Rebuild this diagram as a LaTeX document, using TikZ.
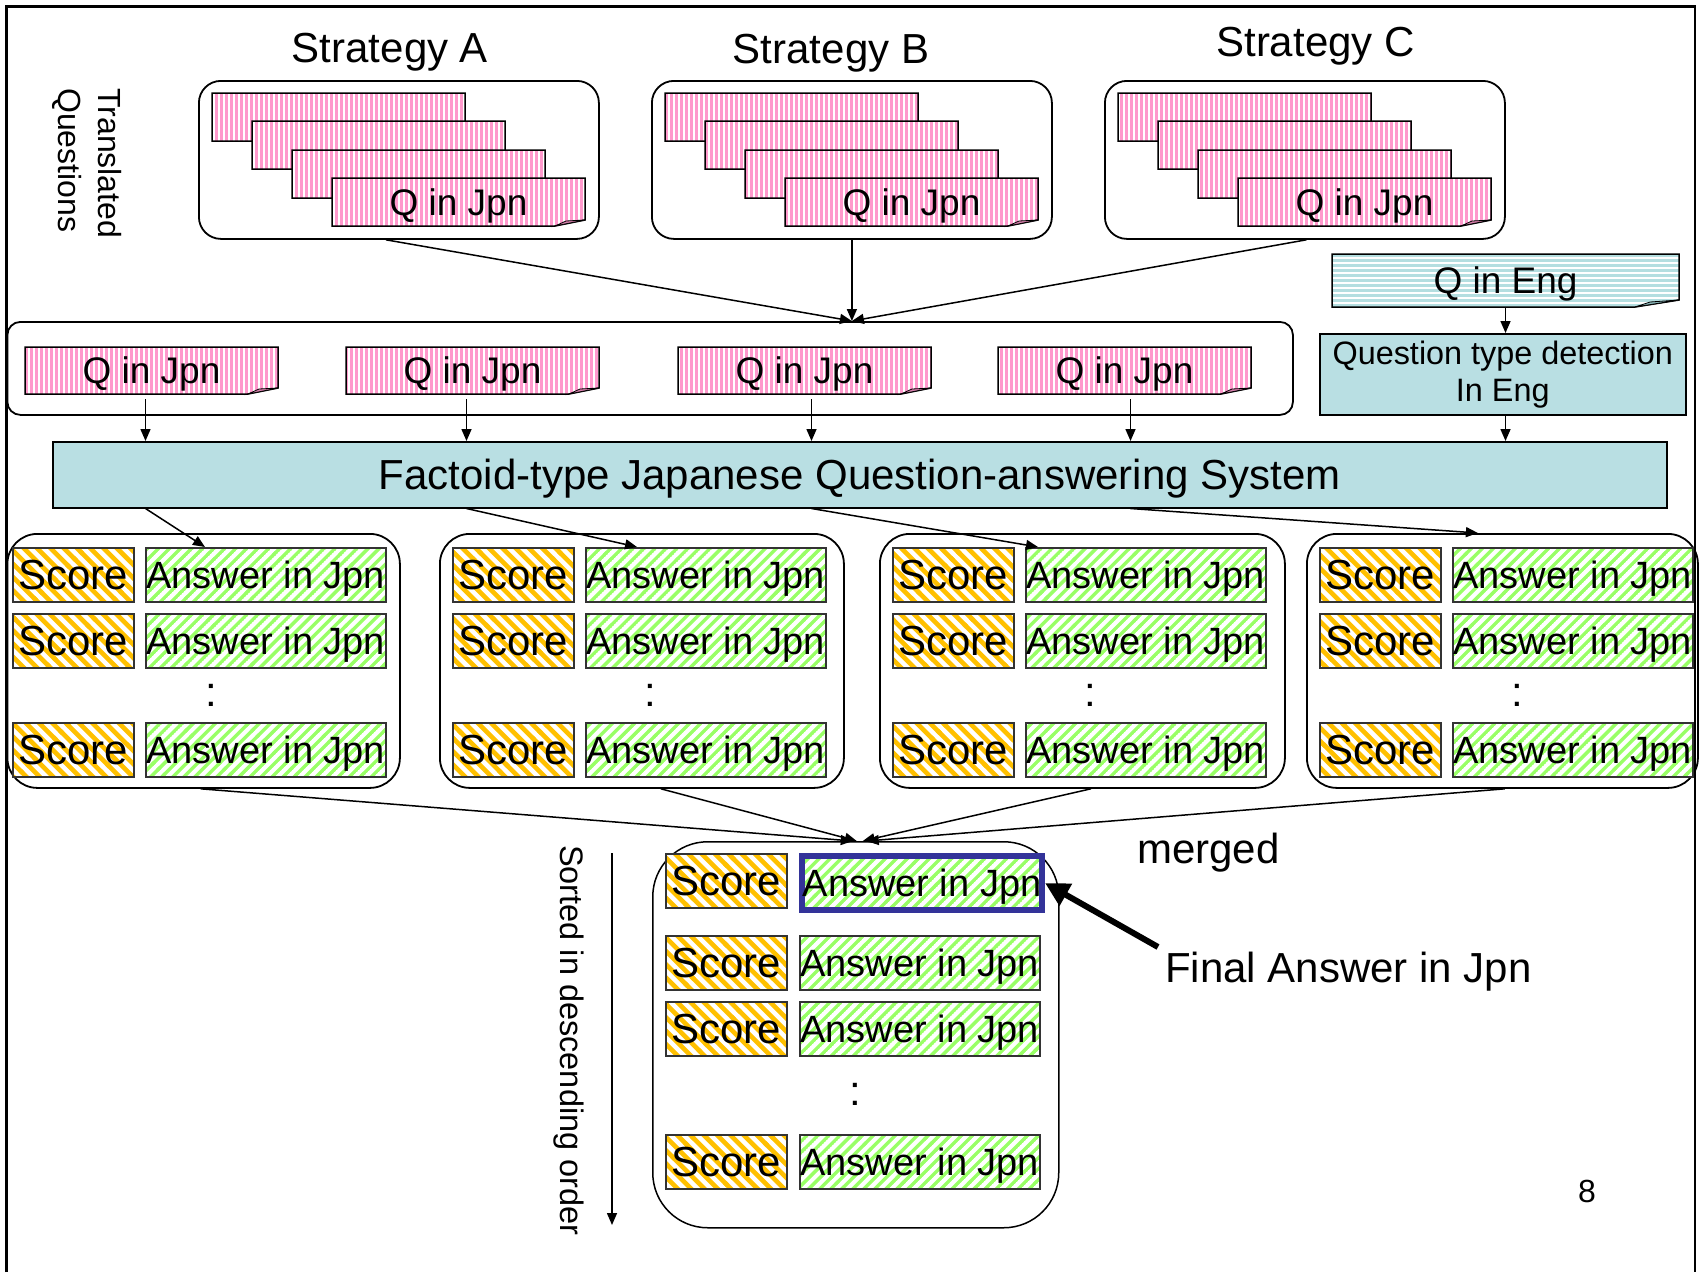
\documentclass[tikz,border=0pt]{standalone}
\usepackage{fontspec}
\setmainfont{Liberation Sans}
\usetikzlibrary{patterns.meta,arrows.meta,calc}

\definecolor{pinkS}{HTML}{FF99CC}
\definecolor{pinkF}{HTML}{D67FAB}
\definecolor{tealS}{HTML}{B4DEE0}
\definecolor{tealF}{HTML}{8AB5B8}
\definecolor{sysfill}{HTML}{B9DFE3}
\definecolor{scoreS}{HTML}{FFC000}
\definecolor{ansS}{HTML}{99FF66}
\definecolor{finalblue}{HTML}{333399}

\tikzdeclarepattern{
  name=vstripe,
  bottom left={(0pt,-2pt)}, top right={(5pt,62pt)},
  tile size={(5pt,60pt)},
  code={\pgfpathrectangle{\pgfpoint{0pt}{-2pt}}{\pgfpoint{3pt}{64pt}}\pgfusepath{fill}}
}
\tikzdeclarepattern{
  name=hstripe,
  bottom left={(-2pt,0pt)}, top right={(62pt,5pt)},
  tile size={(60pt,5pt)},
  code={\pgfpathrectangle{\pgfpoint{-2pt}{0pt}}{\pgfpoint{64pt}{2.6pt}}\pgfusepath{fill}}
}
\tikzdeclarepattern{
  name=scorestripe,
  bottom left={(-2pt,0pt)}, top right={(58.4pt,9.4pt)},
  tile size={(56.4pt,9.4pt)},
  tile transformation={rotate=-45},
  code={\pgfpathrectangle{\pgfpoint{-2pt}{0pt}}{\pgfpoint{60.4pt}{4.6pt}}\pgfusepath{fill}}
}
\tikzdeclarepattern{
  name=ansstripe,
  bottom left={(-2pt,0pt)}, top right={(48.8pt,7.8pt)},
  tile size={(46.8pt,7.8pt)},
  tile transformation={rotate=45},
  code={\pgfpathrectangle{\pgfpoint{-2pt}{0pt}}{\pgfpoint{50.8pt}{3.4pt}}\pgfusepath{fill}}
}

\tikzset{
  jpnsheet/.style={preaction={fill=white}, pattern=vstripe, pattern color=pinkS, draw=black, line width=1.5},
  jpnfold/.style={fill=pinkF, draw=black, line width=0.8},
  sheettext/.style={inner sep=0pt, font=\fontsize{37}{42}\selectfont, text height=26.5pt, text depth=0pt},
  sbox/.style={draw=black, line width=1.8, rounded corners=22, minimum width=400, minimum height=158, anchor=north west, inner sep=0pt},
  title/.style={inner sep=0pt, font=\fontsize{42}{48}\selectfont},
  sysbox/.style={draw=black, line width=1.5, fill=sysfill, anchor=north west, inner sep=0pt},
  grp/.style={draw=black, line width=1.8, rounded corners=30, minimum height=254, anchor=north west, inner sep=0pt},
  scorebox/.style={draw=black!80, line width=1.5, preaction={fill=white}, pattern=scorestripe, pattern color=scoreS,
    minimum width=121, minimum height=54, inner sep=0pt, anchor=north west,
    font=\fontsize{42}{48}\selectfont, text height=30pt, text depth=0pt},
  ansbox/.style={draw=black!80, line width=1.5, preaction={fill=white}, pattern=ansstripe, pattern color=ansS,
    minimum width=240, minimum height=54, inner sep=0pt, anchor=north west,
    font=\fontsize{38}{44}\selectfont, text height=27.2pt, text depth=0pt},
  dots/.style={inner sep=0pt, anchor=base, font=\fontsize{42}{48}\selectfont},
  arr/.style={line width=1.5, -{Triangle[length=12pt,width=10pt]}},
  bigarr/.style={line width=6, -{Triangle[length=24pt,width=24pt]}},
  label/.style={inner sep=0pt}
}

\newcommand\qsheet[6]{%
  \path[jpnsheet] (#2,#3) -- (#4,#3) -- ({#4},{(#5)-6}) -- ({(#4)-30},{#5}) -- (#2,#5) -- cycle;
  \filldraw[jpnfold] ({(#4)-30},{#5}) -- ({(#4)-19},{(#5)-5}) -- ({#4},{(#5)-6}) -- cycle;
  \node[sheettext, minimum width={(#4)-(#2)}, minimum height={(#5)-(#3)}] (#1) at ({((#2)+(#4))/2},{((#3)+(#5))/2}) {#6};
}

\begin{document}
\begin{tikzpicture}[x=1pt,y=-1pt]
\useasboundingbox (0,0) rectangle (1699,1272);
\fill[white] (0,0) rectangle (1699,1272);

% outer frame
\draw[line width=2.5] (6.5,1272) -- (6.5,6.5) -- (1695,6.5) -- (1695,1272);

% rotated side label
\node[label, rotate=-90, anchor=base west, font=\fontsize{32}{38}\selectfont] (tq1) at (98,88) {Translated};
\node[label, rotate=-90, anchor=base west, font=\fontsize{32}{38}\selectfont] (tq2) at (58,88) {Questions};

% strategies
\foreach \o/\n/\tx/\ty in {0/A/390/62, 453/B/831/63, 906/C/1315.5/56.5} {
  \node[sbox] (S\n) at ({198+\o},80) {};
  \qsheet{s\n1}{212+\o}{93}{465+\o}{141}{}
  \qsheet{s\n2}{252+\o}{121}{505+\o}{169}{}
  \qsheet{s\n3}{292+\o}{150}{545+\o}{198}{}
  \qsheet{s\n4}{332+\o}{178}{585+\o}{226}{Q in Jpn}
  \node[title, anchor=base] (T\n) at (\tx,\ty) {Strategy \n};
}

% second row container
\node[draw=black, line width=1.8, rounded corners=13, minimum width=1285.5, minimum height=93, anchor=north west, inner sep=0pt] (R2) at (6.5,321) {};
\qsheet{q1}{25}{347}{278}{394}{Q in Jpn}
\qsheet{q2}{346}{347}{599}{394}{Q in Jpn}
\qsheet{q3}{678}{347}{931}{394}{Q in Jpn}
\qsheet{q4}{998}{347}{1251}{394}{Q in Jpn}

% strategies -> row 2
\coordinate (mq) at (SB.south |- R2.north);
\draw[arr] ($(SA.south)+(-13,0)$) -- (mq);
\draw[arr] (SB.south) -- (mq);
\draw[arr] ($(SC.south)+(1.5,0)$) -- (mq);

% English question
\path[preaction={fill=white}, pattern=hstripe, pattern color=tealS, draw=black, line width=1.5]
  (1332,254) -- (1679,254) -- (1679,300) -- (1635,307) -- (1332,307) -- cycle;
\filldraw[fill=tealF, draw=black, line width=0.8] (1635,307) -- (1650,302) -- (1679,300) -- cycle;
\node[sheettext, minimum width=347, minimum height=53] (QE) at (1505.5,280.5) {Q in Eng};

\node[sysbox, minimum width=366, minimum height=81, align=center, font=\fontsize{32.4}{37}\selectfont] (QT) at (1319,333) {Question type detection\\In Eng};

% QA system
\node[sysbox, minimum width=1614, minimum height=66, font=\fontsize{42}{48}\selectfont, text height=30pt, text depth=0pt] (F) at (52,441) {Factoid-type Japanese Question-answering System};

\draw[arr] (QE.south) -- (QE.south |- QT.north);
\draw[arr] (QE.south |- QT.south) -- (QE.south |- F.north);

% row-2 sheets -> system
\coordinate (c1) at ($(q1.south)+(-6,5)$);
\coordinate (c2) at ($(q2.south)+(-6,5)$);
\coordinate (c3) at ($(q3.south)+(7,5)$);
\coordinate (c4) at ($(q4.south)+(6,5)$);
\foreach \c in {c1,c2,c3,c4} { \draw[arr] (\c) -- (\c |- F.north); }

% answer groups
\node[grp, minimum width=392.5] (G1) at (6.5,533) {};
\node[grp, minimum width=404] (G2) at (439,533) {};
\node[grp, minimum width=405] (G3) at (879,533) {};
\node[grp, minimum width=391] (G4) at (1306,533) {};

\foreach \g/\sl/\al/\dx in {1/12/145/211, 2/452/585/650, 3/892/1025/1090, 4/1319/1452/1517} {
  \foreach \r/\ry in {1/547, 2/613, 3/722} {
    \node[scorebox] (s\g\r) at (\sl,\ry) {Score};
    \node[ansbox] (a\g\r) at (\al,\ry) {Answer in Jpn};
  }
  \node[dots] (d\g) at (\dx,706) {:};
}

% system -> groups
\draw[arr] (c1 |- F.south) -- ($(a11.north west)+(60,0)$);
\draw[arr] (c2 |- F.south) -- ($(a21.north west)+(52,0)$);
\draw[arr] (c3 |- F.south) -- ($(a31.north west)+(13,0)$);
\draw[arr] (c4 |- F.south) -- ($(G4.north)+(-24.5,0)$);

% merged list
\node[draw=black, line width=1.5, rounded corners=55, minimum width=406, minimum height=386, anchor=north west, inner sep=0pt] (M) at (652,841) {};
\foreach \r/\ry in {1/853, 2/935, 3/1001, 4/1134} {
  \node[scorebox] (ms\r) at (665,\ry) {Score};
}
\node[ansbox, draw=finalblue, line width=6] (ma1) at (799,853) {Answer in Jpn};
\foreach \r/\ry in {2/935, 3/1001, 4/1134} {
  \node[ansbox] (ma\r) at (799,\ry) {Answer in Jpn};
}
\node[dots] (dm) at (855,1105) {:};

% groups -> merged
\draw[arr] ($(G1.south)+(-3,0)$) -- ($(M.north)+(-3,0)$);
\draw[arr] ($(G2.south)+(19,0)$) -- ($(M.north)+(1,0)$);
\draw[arr] ($(G3.south)+(8.5,0)$) -- ($(M.north)+(7,0)$);
\draw[arr] ($(G4.south)+(2.5,0)$) -- ($(M.north)+(11,0)$);

% sorted arrow
\coordinate (sortA) at (612,853);
\coordinate (sortB) at (612,1225);
\draw[arr] (sortA) -- (sortB);
\node[label, rotate=-90, anchor=base west, font=\fontsize{32.5}{38}\selectfont] (sorted) at (560,845) {Sorted in descending order};

% labels
\node[label, anchor=base west, font=\fontsize{42}{48}\selectfont] (merged) at (1137,863) {merged};
\node[label, anchor=base west, font=\fontsize{42}{48}\selectfont] (FA) at (1165,982) {Final Answer in Jpn};
\coordinate (fatail) at (1158,947);
\draw[bigarr] (fatail) -- (ma1.east);

\node[label, anchor=base, font=\fontsize{32}{38}\selectfont] (pg) at (1587,1202) {8};
\end{tikzpicture}
\end{document}
